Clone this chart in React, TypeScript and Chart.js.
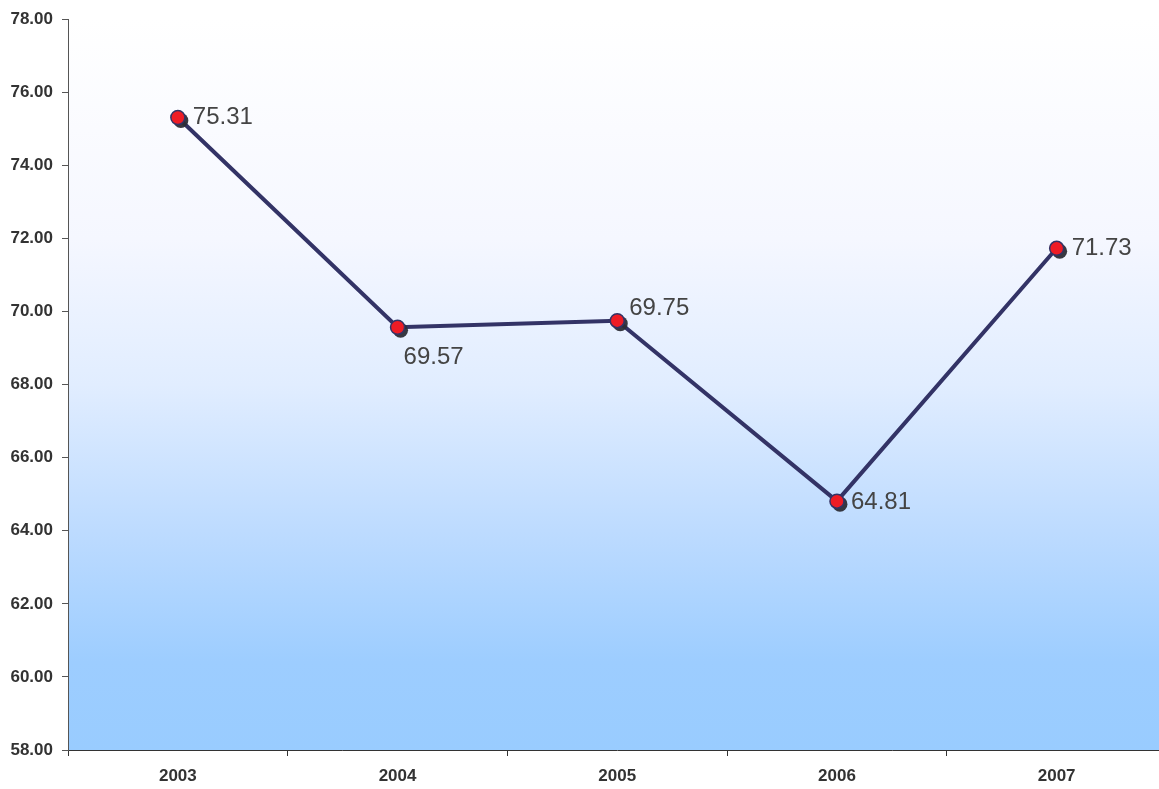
import React, { useEffect, useRef } from "react";
import { Chart, registerables } from "chart.js";

Chart.register(...registerables);

const categories = ["2003", "2004", "2005", "2006", "2007"];
const values = [75.31, 69.57, 69.75, 64.81, 71.73];
// label offsets (dx, dy) relative to each point
const labelDx = [15, 6, 12, 14, 15];
const labelDy = [0, 30, -12, 1, 0];
const yMin = 58;
const yMax = 78;
const yStep = 2;

const bgPlugin = {
  id: "bgGradient",
  beforeDraw(chart: any) {
    const { ctx, chartArea } = chart;
    if (!chartArea) return;
    const g = ctx.createLinearGradient(0, chartArea.top, 0, chartArea.bottom);
    g.addColorStop(0, "#FFFFFF");
    g.addColorStop(0.3, "#F5F7FF");
    g.addColorStop(0.5, "#E1EDFF");
    g.addColorStop(0.7, "#BDDBFF");
    g.addColorStop(0.88, "#9DCDFF");
    g.addColorStop(1, "#99CCFF");
    ctx.save();
    ctx.fillStyle = g;
    ctx.fillRect(chartArea.left, chartArea.top, chartArea.right - chartArea.left, chartArea.bottom - chartArea.top);
    ctx.restore();
  },
};

const shadowPlugin = {
  id: "pointShadow",
  afterDatasetDraw(chart: any, args: any) {
    if (args.index !== 0) return;
    const meta = chart.getDatasetMeta(1);
    const ctx = chart.ctx;
    ctx.save();
    ctx.fillStyle = "rgba(45,45,55,0.95)";
    meta.data.forEach((pt: any) => {
      ctx.beginPath();
      ctx.arc(pt.x + 3, pt.y + 3, 7.5, 0, Math.PI * 2);
      ctx.fill();
    });
    ctx.restore();
  },
};

const labelPlugin = {
  id: "valueLabels",
  afterDatasetsDraw(chart: any) {
    const meta = chart.getDatasetMeta(1);
    const ctx = chart.ctx;
    ctx.save();
    ctx.font = "24px 'Liberation Sans', Arial, sans-serif";
    ctx.fillStyle = "#444444";
    ctx.textAlign = "left";
    ctx.textBaseline = "middle";
    meta.data.forEach((pt: any, i: number) => {
      ctx.fillText(values[i].toFixed(2), pt.x + labelDx[i], pt.y + labelDy[i]);
    });
    ctx.restore();
  },
};

export default function App() {
  const ref = useRef<HTMLCanvasElement>(null);

  useEffect(() => {
    document.body.style.margin = "0";
    document.documentElement.style.overflow = "hidden";
    document.body.style.overflow = "hidden";
    const chart = new Chart(ref.current!, {
      type: "line",
      data: {
        labels: categories,
        datasets: [
          {
            data: values,
            borderColor: "#333366",
            borderWidth: 4,
            pointRadius: 0,
            pointHoverRadius: 0,
            fill: false,
            tension: 0,
            order: 2,
          },
          {
            data: values,
            showLine: false,
            pointRadius: 7,
            pointHoverRadius: 7,
            pointBackgroundColor: "#EE1C25",
            pointBorderColor: "#333366",
            pointBorderWidth: 1.5,
            order: 1,
          },
        ],
      },
      options: {
        animation: false,
        responsive: false,
        maintainAspectRatio: false,
        layout: { padding: { top: 18, left: 0, right: 0, bottom: 0 } },
        plugins: { legend: { display: false }, tooltip: { enabled: false } },
        scales: {
          x: {
            offset: true,
            afterFit(scale: any) {
              scale.height = 39;
            },
            grid: {
              offset: true,
              drawOnChartArea: false,
              drawTicks: true,
              tickLength: 6,
              color: "#333333",
            },
            border: { display: true, color: "#333333", width: 1 },
            ticks: {
              color: "#333333",
              padding: 10,
              font: { family: "'Liberation Sans', Arial, sans-serif", size: 17, weight: "bold" },
            },
          },
          y: {
            min: yMin,
            max: yMax,
            afterFit(scale: any) {
              scale.width = 68;
            },
            grid: {
              drawOnChartArea: false,
              drawTicks: true,
              tickLength: 6,
              color: "#555555",
            },
            border: { display: true, color: "#555555", width: 1 },
            ticks: {
              stepSize: yStep,
              color: "#333333",
              padding: 9,
              font: { family: "'Liberation Sans', Arial, sans-serif", size: 17, weight: "bold" },
              callback: (v: any) => Number(v).toFixed(2),
            },
          },
        },
      },
      plugins: [bgPlugin, shadowPlugin, labelPlugin],
    });
    return () => chart.destroy();
  }, []);

  return (
    <div style={{ position: "absolute", left: 0, top: 0, width: 1175, height: 789 }}>
      <canvas ref={ref} width={1175} height={789} style={{ display: "block" }} />
    </div>
  );
}
